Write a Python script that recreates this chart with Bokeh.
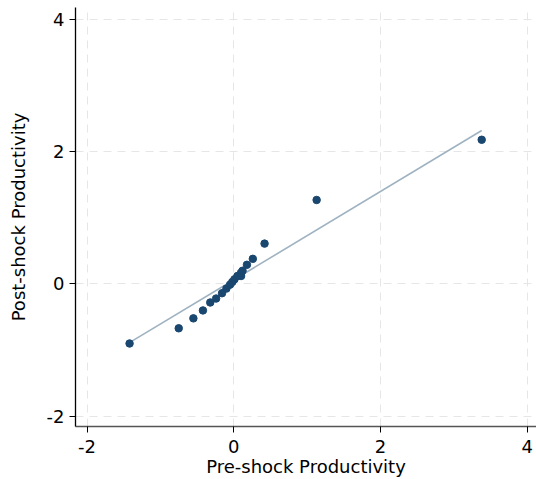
from bokeh.plotting import figure
from bokeh.models import FixedTicker, Range1d, PrintfTickFormatter
from bokeh.embed import file_html
from bokeh.resources import INLINE

# binned means (pre-shock vs post-shock productivity)
pre_bins = [-1.42, -0.75, -0.55, -0.42, -0.32, -0.24, -0.16, -0.10, -0.05, -0.02,
            0.01, 0.05, 0.10, 0.10, 0.12, 0.18, 0.26, 0.42, 1.13, 3.38]
post_bins = [-0.90, -0.67, -0.52, -0.40, -0.28, -0.22, -0.14, -0.07, -0.01, 0.03,
             0.07, 0.12, 0.12, 0.17, 0.20, 0.29, 0.38, 0.61, 1.27, 2.18]

# linear fit endpoints
fit_x = [-1.41, 3.38]
fit_y = [-0.88, 2.32]

ticks = [-2, 0, 2, 4]

p = figure(width=536, height=479, output_backend="svg", toolbar_location=None,
           x_range=Range1d(-2.157, 4.127), y_range=Range1d(-2.155, 4.18),
           min_border_left=75, min_border_right=0, min_border_top=7,
           min_border_bottom=50)
p.outline_line_color = None
p.background_fill_color = "white"

p.line(fit_x, fit_y, line_color="#9fb2c1", line_width=1.6)
p.scatter(pre_bins, post_bins, size=7.5, color="#1a476f")

for ax in (p.xaxis, p.yaxis):
    ax.ticker = FixedTicker(ticks=ticks)
    ax.formatter = PrintfTickFormatter(format="%d")
    ax.minor_tick_line_color = None
    ax.major_tick_out = 6
    ax.major_tick_in = 0
    ax.axis_line_width = 1.3
    ax.major_label_text_font = "DejaVu Sans"
    ax.major_label_text_font_size = "18px"
    ax.major_label_text_color = "black"
    ax.axis_label_text_font = "DejaVu Sans"
    ax.axis_label_text_font_size = "18px"
    ax.axis_label_text_font_style = "normal"
    ax.axis_label_text_color = "black"

p.xaxis.axis_label = "Pre-shock Productivity"
p.yaxis.axis_label = "Post-shock Productivity"
p.xaxis.axis_line_color = "#555555"
p.yaxis.axis_line_color = "black"
p.yaxis.major_label_orientation = "horizontal"
p.xaxis.major_label_standoff = 7
p.xaxis.axis_label_standoff = 0
p.yaxis.axis_label_standoff = 15

p.grid.grid_line_color = "#e6e6e6"
p.grid.grid_line_dash = "8 6"
p.grid.grid_line_width = 1

open("out.html", "w").write(file_html(p, INLINE))
